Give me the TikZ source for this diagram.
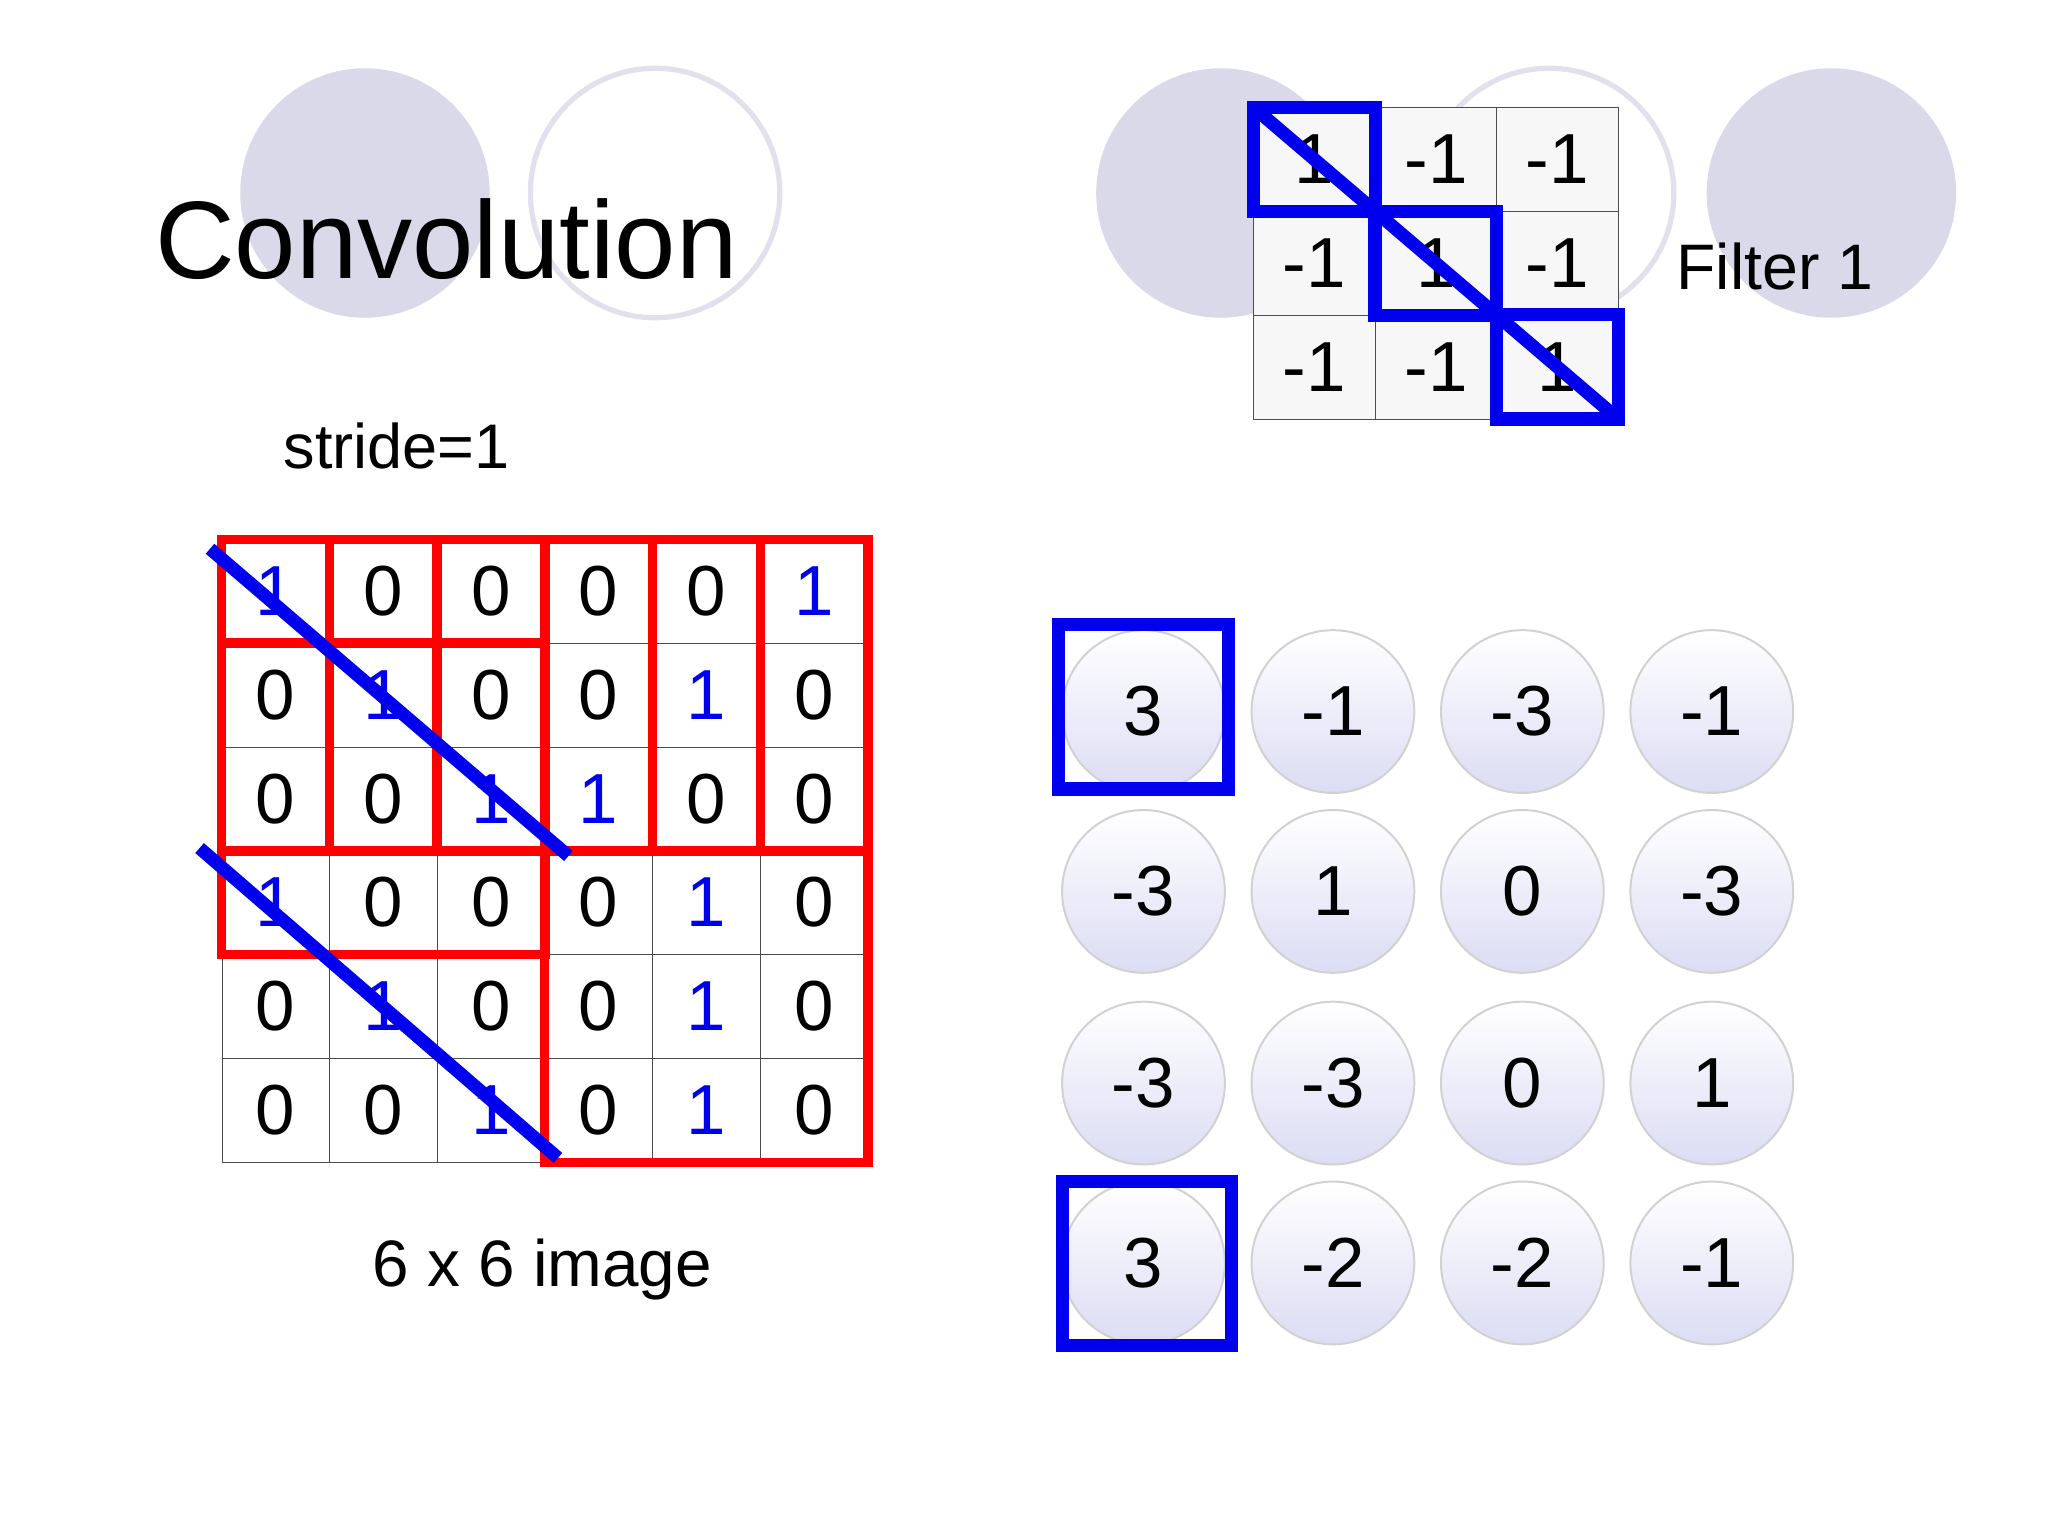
\documentclass[tikz,border=0pt]{standalone}
\usepackage{fontspec}
\setmainfont{Liberation Sans}
\definecolor{lav}{HTML}{D9D9EA}
\definecolor{lavd}{HTML}{DCDCF4}
\definecolor{blu}{HTML}{0000EE}
\begin{document}
\begin{tikzpicture}[x=1pt,y=-1pt,
  bgc/.style={fill=lav},
  bgo/.style={draw=lav!80,line width=4pt},
  fcell/.style={draw=black!70,fill=black!3,minimum width=92.5pt,minimum height=79pt,inner sep=0,font=\fontsize{54}{54}\selectfont},
  icell/.style={draw=black!70,minimum width=82pt,minimum height=79pt,inner sep=0,font=\fontsize{54}{54}\selectfont},
  redw/.style={draw=red,line width=7pt},
  blueb/.style={draw=blu,line width=10pt},
  bluel/.style={draw=blu,line width=10pt},
  outc/.style={circle,draw=black!18,line width=1.5pt,top color=white,bottom color=lavd,minimum size=124pt,inner sep=0,font=\fontsize{54}{54}\selectfont}]
\useasboundingbox (0,0) rectangle (1560,1170);
\fill[white] (0,0) rectangle (1560,1170);
\fill[bgc] (278,147) circle (95);
\draw[bgo] (499,147) circle (95);
\fill[bgc] (930,147) circle (95);
\draw[bgo] (1180,147) circle (95);
\fill[bgc] (1395,147) circle (95);
\node (title) at (340,182) {\fontsize{84}{84}\selectfont Convolution};
\node (filt) at (1352,203) {\fontsize{49}{49}\selectfont Filter 1};
\node (stride) at (302,340) {\fontsize{48}{48}\selectfont stride=1};
\node (cap) at (413,967) {\fontsize{50}{50}\selectfont 6 x 6 image};
% filter
\foreach \r/\row in {1/{1,-1,-1},2/{-1,1,-1},3/{-1,-1,1}}{
  \foreach \v [count=\c] in \row {
    \node[fcell] (f\r\c) at ({955+92.5*(\c-0.5)},{82+79*(\r-0.5)}) {\v};
  }}
\foreach \i in {1,2,3}{\draw[blueb] (f\i\i.north west) rectangle (f\i\i.south east);}
\draw[bluel] (f11.north west) -- (f33.south east);
% image
\foreach \r/\row in {1/{1,0,0,0,0,1},2/{0,1,0,0,1,0},3/{0,0,1,1,0,0},4/{1,0,0,0,1,0},5/{0,1,0,0,1,0},6/{0,0,1,0,1,0}}{
  \foreach \v [count=\c] in \row {
    \ifnum\v=1 \def\tc{blu}\else\def\tc{black}\fi
    \node[icell,text=\tc] (i\r\c) at ({169+82*(\c-0.5)},{411+79*(\r-0.5)}) {\v};
  }}
\draw[redw] (i11.north west) rectangle (i33.south east);
\draw[redw] (i12.north west) rectangle (i34.south east);
\draw[redw] (i13.north west) rectangle (i35.south east);
\draw[redw] (i14.north west) rectangle (i36.south east);
\draw[redw] (i21.north west) rectangle (i43.south east);
\draw[redw] (i44.north west) rectangle (i66.south east);
\coordinate (la) at (160,418); \coordinate (lb) at (433,652);
\coordinate (lc) at (152,646); \coordinate (ld) at (425,882);
\draw[bluel] (la) -- (lb);
\draw[bluel] (lc) -- (ld);
% output
\foreach \r/\row in {1/{3,-1,-3,-1},2/{-3,1,0,-3},3/{-3,-3,0,1},4/{3,-2,-2,-1}}{
  \foreach \v [count=\c] in \row {
    \pgfmathsetmacro\yy{\r==1?542:(\r==2?679:(\r==3?825:962))}
    \node[outc] (o\r\c) at ({871+144.3*(\c-1)},\yy) {\v};
  }}
\draw[blueb] (806,476) rectangle (936,601);
\draw[blueb] (809,900) rectangle (938,1025);
\end{tikzpicture}
\end{document}
